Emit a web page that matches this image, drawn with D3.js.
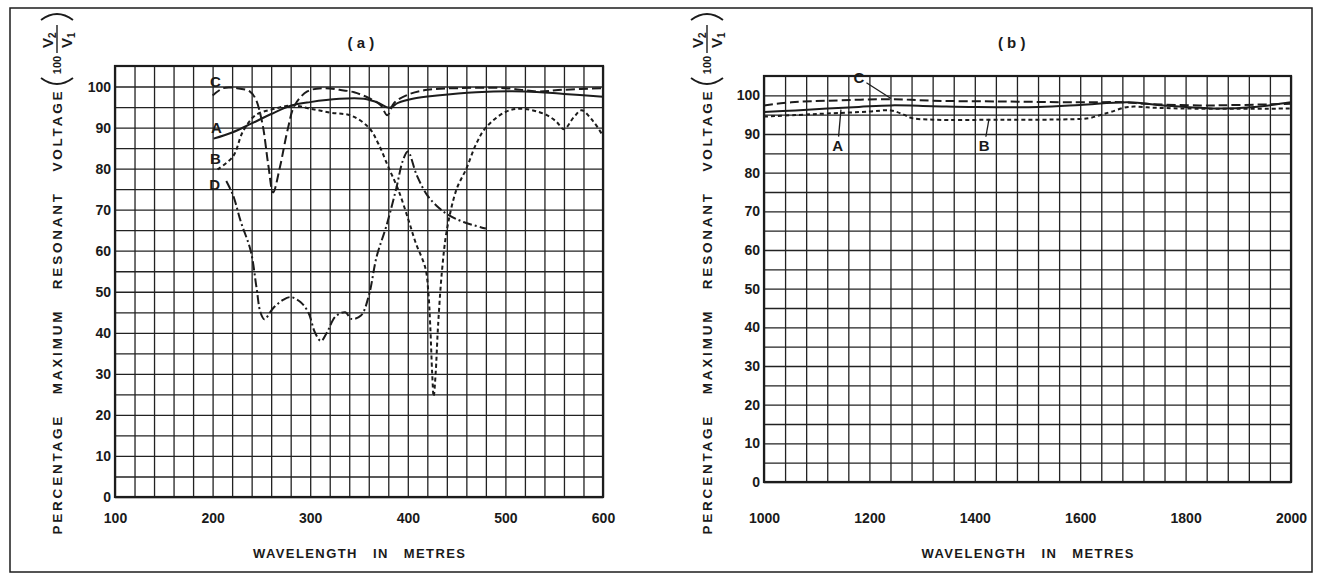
<!DOCTYPE html>
<html>
<head>
<meta charset="utf-8">
<script src="https://cdn.jsdelivr.net/npm/d3@7"></script>
<style>
    body { margin: 0; background: #fff; }
    svg text { font-family: 'Liberation Sans', Arial, sans-serif; font-weight: bold; fill: #1a1a1a; }
</style>
</head>
<body>
<div class="content"></div>
<script>
// tick labels
let wavelengthTicksA = [100, 200, 300, 400, 500, 600];
let wavelengthTicksB = [1000, 1200, 1400, 1600, 1800, 2000];
let percentTicks = [0, 10, 20, 30, 40, 50, 60, 70, 80, 90, 100];

// panel (a) curves, [wavelength m, percent]
let curveA_a = [[201, 87.3], [220, 88.8], [240, 91], [260, 93.3], [280, 95.3], [300, 96.2], [330, 97], [355, 97],
    [370, 96], [381, 94.8], [390, 96], [405, 97], [430, 97.8], [470, 98.6], [520, 98.8], [560, 98.2], [600, 97.5]];
let curveB_a = [[205, 79.8], [221, 83], [231, 89], [244, 93], [264, 94.6], [282, 95.4], [300, 94.6], [322, 93.6],
    [342, 92.9], [360, 90], [370, 86], [380, 80.4], [390, 75], [400, 68], [408, 62], [418, 55.8], [421, 50],
    [423, 41.7], [425, 30], [426.5, 24.5], [428.5, 30], [431, 41.7], [435, 55], [440, 65], [450, 75], [460, 80],
    [470, 86], [480, 90], [500, 93.8], [516, 94.6], [540, 93.3], [552, 91.5], [560, 89.6], [570, 92.5],
    [578, 94.2], [590, 91.5], [600, 88]];
let curveC_a = [[200, 97.8], [211, 99.6], [225, 99.6], [238, 98.8], [244, 97], [251, 91], [257, 81], [262, 74.2],
    [269, 80.4], [277, 89.6], [284, 95.4], [297, 98.8], [313, 99.6], [330, 99.2], [345, 98.6], [360, 97.2],
    [372, 95.5], [379, 93], [386, 96], [400, 98], [420, 99.2], [450, 99.6], [500, 99.6], [533, 98.8],
    [559, 99.2], [600, 99.6]];
let curveD_a = [[214, 77], [221, 73.5], [229, 67], [239, 60], [245, 51], [249, 45], [253, 43.3], [262, 46],
    [272, 48], [280, 48.7], [290, 47.5], [298, 45], [305, 40], [311, 38], [317, 40], [326, 44], [336, 45],
    [342, 43.4], [352, 44.2], [360, 49], [368, 58.5], [378, 66], [388, 75], [395, 82], [400, 84.2], [409, 78.5],
    [420, 73.5], [432, 70.4], [441, 68.8], [457, 67], [480, 65.4]];

// panel (b) curves
let curveA_b = [[1000, 95.7], [1060, 96.1], [1120, 96.6], [1180, 97], [1241, 97.4], [1320, 97.2], [1400, 97],
    [1521, 97], [1600, 97.5], [1691, 98.2], [1758, 97.4], [1859, 96.6], [1930, 97], [2000, 98.2]];
let curveB_b = [[1000, 94.5], [1060, 94.9], [1120, 95.3], [1200, 95.8], [1241, 96.1], [1265, 95], [1281, 94.1],
    [1321, 93.7], [1456, 93.7], [1580, 93.8], [1617, 94.1], [1640, 95], [1658, 95.7], [1691, 97], [1740, 96.8],
    [1793, 96.6], [1900, 96.5], [2000, 96.6]];
let curveC_b = [[1000, 97.4], [1052, 98.2], [1120, 98.6], [1241, 99], [1321, 98.6], [1456, 98.4], [1590, 98.2],
    [1684, 98.2], [1725, 97.8], [1826, 97.4], [1900, 97.5], [2000, 97.8]];

// curve labels; tip = where the pointer line ends on the curve
let labelsA = [{name: 'C', m: 203, v: 101.2}, {name: 'A', m: 204, v: 90}, {name: 'B', m: 203, v: 82.5},
    {name: 'D', m: 202, v: 76.2}];
let labelsB = [{name: 'C', m: 1180, v: 104.5, tipM: 1241, tipV: 99.2},
    {name: 'A', m: 1140, v: 87, tipM: 1146, tipV: 96.3},
    {name: 'B', m: 1418, v: 87, tipM: 1427, tipV: 93.9}];

(function () {
    let W = 1321, H = 583;
    let ink = '#1c1c1c';

    let svg = d3.select('.content').append('svg')
        .attr('width', W)
        .attr('height', H);

    svg.append('rect').attr('width', W).attr('height', H).attr('fill', '#fff');

    // outer frame of the figure
    svg.append('rect')
        .attr('x', 10).attr('y', 8)
        .attr('width', 1302).attr('height', 564)
        .attr('fill', 'none')
        .attr('stroke', ink)
        .attr('stroke-width', 1.5);

    let dashes = {A: null, B: '4,3', C: '9,4', D: '9,3,2,3'};

    let buildPanel = function (p) {
        let xScale = d3.scaleLinear().domain(p.xDomain).range([p.left, p.right]);
        let yScale = d3.scaleLinear().domain([0, 105]).range([p.bottom, p.top]);
        let width = p.right - p.left;
        let height = p.bottom - p.top;

        // vertical grid
        svg.append('g')
            .attr('class', 'grid')
            .attr('transform', 'translate(0,' + p.bottom + ')')
            .call(d3.axisBottom(xScale)
                .tickValues(d3.range(p.xDomain[0], p.xDomain[1] + 1, p.xStep))
                .tickSizeInner(-height)
                .tickSizeOuter(0)
                .tickFormat(''));

        // horizontal grid
        svg.append('g')
            .attr('class', 'grid')
            .attr('transform', 'translate(' + p.left + ',0)')
            .call(d3.axisLeft(yScale)
                .tickValues(d3.range(0, 101, 5))
                .tickSizeInner(-width)
                .tickSizeOuter(0)
                .tickFormat(''));

        svg.selectAll('.grid line').attr('stroke', '#222').attr('stroke-width', 1.3);
        svg.selectAll('.grid .domain').remove();

        // tick labels
        let gx = svg.append('g')
            .attr('transform', 'translate(0,513)')
            .call(d3.axisBottom(xScale).tickValues(p.xTicks).tickSize(0).tickPadding(0).tickFormat(d3.format('d')));
        gx.select('.domain').remove();
        gx.selectAll('text').style('font-size', '14px').style('font-family', null).attr('fill', ink);

        let gy = svg.append('g')
            .attr('transform', 'translate(' + (p.left - 4) + ',0)')
            .call(d3.axisLeft(yScale).tickValues(percentTicks).tickSize(0).tickPadding(0));
        gy.select('.domain').remove();
        gy.selectAll('text').style('font-size', '14px').style('font-family', null).attr('fill', ink);

        // plot border
        svg.append('rect')
            .attr('x', p.left).attr('y', p.top)
            .attr('width', width).attr('height', height)
            .attr('fill', 'none')
            .attr('stroke', ink)
            .attr('stroke-width', 2.2);

        let line = d3.line()
            .x(function (d) { return xScale(d[0]); })
            .y(function (d) { return yScale(d[1]); })
            .curve(d3.curveCatmullRom.alpha(0.5));

        p.curves.forEach(function (c) {
            svg.append('path')
                .datum(c.data)
                .attr('fill', 'none')
                .attr('stroke', ink)
                .attr('stroke-width', 2)
                .attr('stroke-dasharray', dashes[c.kind])
                .attr('d', line);
        });

        p.labels.forEach(function (l) {
            let lx = xScale(l.m), ly = yScale(l.v);
            if (l.tipM !== undefined) {
                let tx = xScale(l.tipM), ty = yScale(l.tipV);
                let len = Math.hypot(tx - lx, ty - ly);
                svg.append('line')
                    .attr('x1', lx + (tx - lx) / len * 9).attr('y1', ly + (ty - ly) / len * 9)
                    .attr('x2', tx).attr('y2', ty)
                    .attr('stroke', ink).attr('stroke-width', 1.3);
            }
            svg.append('text')
                .attr('x', lx)
                .attr('y', ly)
                .attr('dy', '0.36em')
                .attr('text-anchor', 'middle')
                .style('font-size', '15px')
                .text(l.name);
        });

        // panel title
        svg.append('text')
            .attr('x', xScale(p.titleAt))
            .attr('y', 43)
            .attr('dy', '0.35em')
            .attr('text-anchor', 'middle')
            .attr('xml:space', 'preserve')
            .style('font-size', '15px')
            .text(p.title);

        // x title
        svg.append('text')
            .attr('x', (p.left + p.right) / 2)
            .attr('y', 553)
            .attr('dy', '0.35em')
            .attr('text-anchor', 'middle')
            .attr('textLength', 212)
            .attr('lengthAdjust', 'spacing')
            .attr('xml:space', 'preserve')
            .style('font-size', '13px')
            .text('WAVELENGTH   IN   METRES');

        // y title, rotated
        let yt = svg.append('g')
            .attr('transform', 'translate(' + p.yTitleX + ',313) rotate(-90)');
        yt.append('text')
            .attr('text-anchor', 'middle')
            .attr('dy', '0.36em')
            .attr('textLength', 443)
            .attr('lengthAdjust', 'spacing')
            .attr('xml:space', 'preserve')
            .style('font-size', '13.5px')
            .text('PERCENTAGE   MAXIMUM   RESONANT   VOLTAGE');

        // (100 V2/V1)
        let fr = svg.append('g')
            .attr('transform', 'translate(' + p.yTitleX + ',50) rotate(-90)');
        fr.append('path')
            .attr('d', 'M-28,-16 Q-40,0 -28,16')
            .attr('fill', 'none').attr('stroke', ink).attr('stroke-width', 1.8);
        fr.append('path')
            .attr('d', 'M30,-16 Q42,0 30,16')
            .attr('fill', 'none').attr('stroke', ink).attr('stroke-width', 1.8);
        fr.append('text')
            .attr('x', -15).attr('y', 0).attr('dy', '0.35em')
            .attr('text-anchor', 'middle')
            .style('font-size', '11px')
            .text('100');
        fr.append('line')
            .attr('x1', -3).attr('x2', 25).attr('y1', 0).attr('y2', 0)
            .attr('stroke', ink).attr('stroke-width', 1.4);
        let num = fr.append('text').attr('x', 2).attr('y', -4).style('font-size', '15px');
        num.append('tspan').text('V');
        num.append('tspan').attr('dy', 3).style('font-size', '10px').text('2');
        let den = fr.append('text').attr('x', 2).attr('y', 15).style('font-size', '15px');
        den.append('tspan').text('V');
        den.append('tspan').attr('dy', 3).style('font-size', '10px').text('1');
    };

    buildPanel({
        title: '( a )', titleAt: 352, left: 115, right: 603, top: 66, bottom: 497, yTitleX: 57,
        xDomain: [100, 600], xStep: 20, xTicks: wavelengthTicksA,
        curves: [{kind: 'A', data: curveA_a}, {kind: 'B', data: curveB_a},
            {kind: 'C', data: curveC_a}, {kind: 'D', data: curveD_a}],
        labels: labelsA
    });

    buildPanel({
        title: '( b )', titleAt: 1470, left: 764, right: 1291, top: 76, bottom: 482, yTitleX: 707,
        xDomain: [1000, 2000], xStep: 40, xTicks: wavelengthTicksB,
        curves: [{kind: 'A', data: curveA_b}, {kind: 'B', data: curveB_b}, {kind: 'C', data: curveC_b}],
        labels: labelsB
    });
})();
</script>
</body>
</html>
